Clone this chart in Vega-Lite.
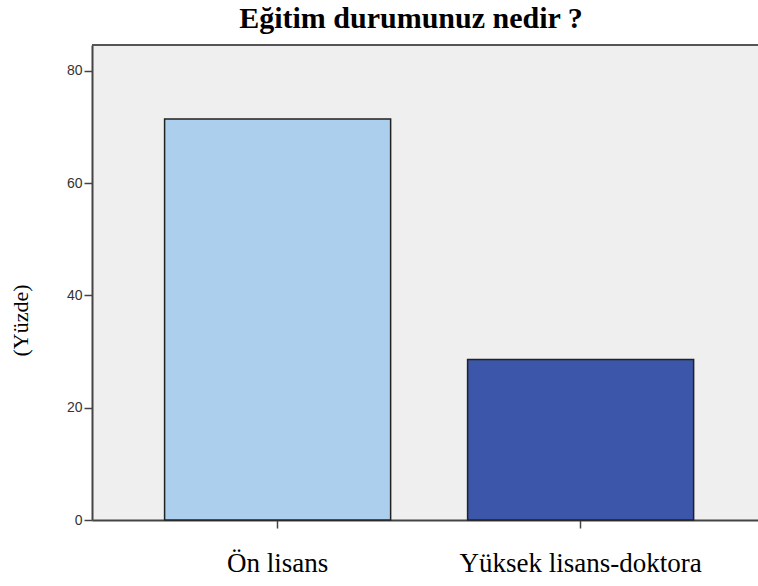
{
  "$schema": "https://vega.github.io/schema/vega-lite/v6.json",
  "width": 666,
  "height": 475,
  "autosize": {"type": "none"},
  "padding": {"left": 92, "top": 45, "right": 0, "bottom": 66},
  "background": "white",
  "title": {
    "text": "Eğitim durumunuz nedir ?",
    "font": "Liberation Serif",
    "fontSize": 30,
    "fontWeight": "bold",
    "color": "black",
    "anchor": "middle",
    "dx": -14,
    "offset": 10
  },
  "config": {
    "view": {"stroke": null, "fill": "#efefef"}
  },
  "data": {
    "values": [
      {"kategori": "Ön lisans", "yuzde": 71.4},
      {"kategori": "Yüksek lisans-doktora", "yuzde": 28.6}
    ]
  },
  "layer": [
    {
      "mark": {"type": "bar", "stroke": "#222222", "strokeWidth": 1.5},
      "encoding": {
        "x": {
          "field": "kategori",
          "type": "nominal",
          "sort": null,
          "scale": {"paddingInner": 0.254, "paddingOuter": 0.226, "align": 0.53},
          "axis": {
            "title": null,
            "labelAngle": 0,
            "labelFont": "Liberation Serif",
            "labelFontSize": 27,
            "labelColor": "black",
            "labelPadding": 22,
            "labelLimit": 0,
            "tickSize": 8,
            "tickColor": "#444444",
            "tickWidth": 1.5,
            "domainColor": "#444444",
            "domainWidth": 2
          }
        },
        "y": {
          "field": "yuzde",
          "type": "quantitative",
          "scale": {"domain": [0, 84.6], "nice": false},
          "axis": {
            "values": [0, 20, 40, 60, 80],
            "title": "(Yüzde)",
            "titleFont": "Liberation Serif",
            "titleFontSize": 22,
            "titleFontWeight": "normal",
            "titleColor": "black",
            "titleX": -72,
            "titleY": 275,
            "titleAngle": -90,
            "titleAlign": "center",
            "titleBaseline": "middle",
            "labelFont": "Liberation Sans",
            "labelFontSize": 14,
            "labelColor": "#333333",
            "labelPadding": 2,
            "tickSize": 8,
            "tickColor": "#444444",
            "tickWidth": 1.5,
            "domainColor": "#444444",
            "domainWidth": 2,
            "grid": false
          }
        },
        "color": {
          "field": "kategori",
          "type": "nominal",
          "scale": {"domain": ["Ön lisans", "Yüksek lisans-doktora"], "range": ["#abcfed", "#3c56a9"]},
          "legend": null
        }
      }
    },
    {
      "mark": {"type": "rule", "color": "#555555", "strokeWidth": 2},
      "encoding": {"y": {"datum": 84.6}}
    }
  ]
}
